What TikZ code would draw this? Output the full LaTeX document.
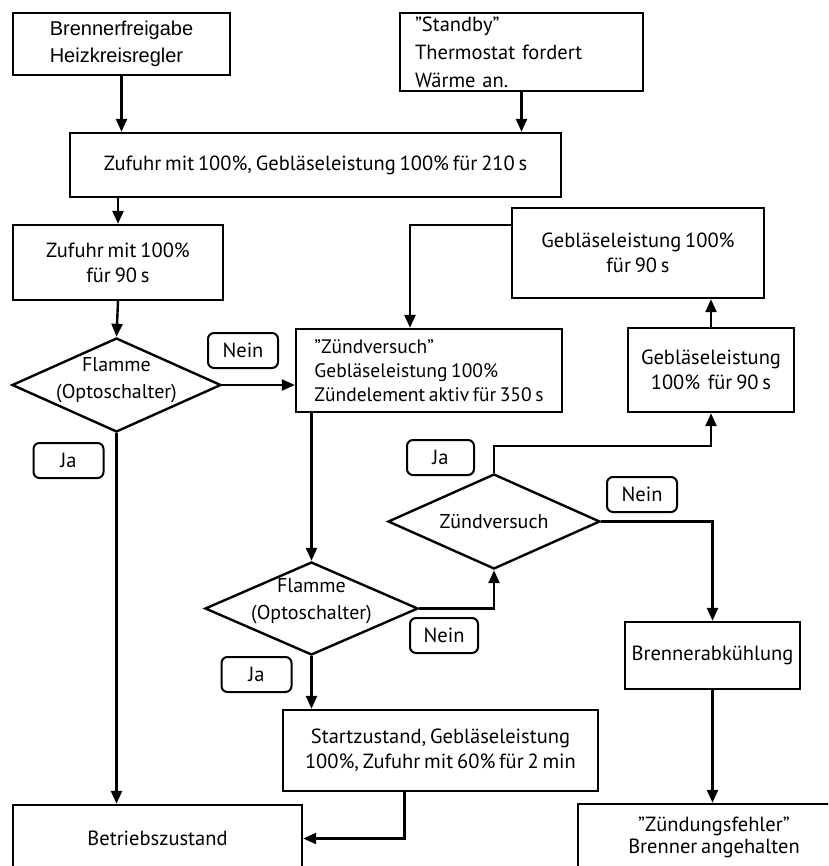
\documentclass[tikz,border=0pt]{standalone}
\usepackage{fontspec}
\setmainfont{PT Sans}[WordSpace=0.7]
\newfontfamily\arialfont{Liberation Sans}
\usetikzlibrary{shapes.geometric, arrows.meta, calc}
\tikzset{
    kasten/.style={draw, rectangle, line width=2.4pt, inner sep=0pt, align=center, font=\fontsize{20.5}{25}\selectfont},
    raute/.style={draw, diamond, line width=2.4pt, inner sep=0pt},
    rautentext/.style={align=center, font=\fontsize{20}{27}\selectfont},
    antwort/.style={draw, rounded corners=6pt, line width=2pt, minimum width=70pt, minimum height=35pt, inner sep=0pt, font=\fontsize{20.5}{25}\selectfont},
    pfeil/.style={-{Triangle[length=13pt,width=11pt]}, line width=2.4pt}
}

\begin{document}
\begin{tikzpicture}[x=1pt, y=-1pt]
                \clip (0,0) rectangle (828,866);

                \node[kasten, font=\arialfont\fontsize{20}{27}\selectfont, align=left, minimum width=217pt, minimum height=62pt] (brenner) at (121.5, 44) {Brennerfreigabe\\Heizkreisregler};
                \node[kasten, font=\fontsize{20.5}{28}\selectfont, align=left, text width=213pt, minimum width=243pt, minimum height=78pt] (standby) at (521.5, 52) {''Standby''\\Thermostat fordert\\Wärme an.};
                \node[kasten, minimum width=491pt, minimum height=64pt] (zufuhrA) at (315.5, 165) {Zufuhr mit 100\%, Gebläseleistung 100\% für 210 s};
                \node[kasten, minimum width=210pt, minimum height=75pt] (zufuhrB) at (118, 262.5) {Zufuhr mit 100\%\\für 90 s};
                \node[raute, minimum width=209pt, minimum height=94pt, label={[rautentext, yshift=5pt]center:Flamme\\(Optoschalter)}] (flammeA) at (116.5, 385) {};
                \node[kasten, font=\fontsize{19.5}{24}\selectfont, align=left, minimum width=266pt, minimum height=83pt] (zuend) at (429, 370.5) {''Zündversuch''\\Gebläseleistung 100\%\\Zündelement aktiv für 350 s};
                \node[raute, minimum width=213pt, minimum height=93pt, label={[rautentext, yshift=7pt]center:Flamme\\(Optoschalter)}] (flammeB) at (311.5, 608.5) {};
                \node[kasten, minimum width=315pt, minimum height=81pt] (start) at (440.5, 750.5) {Startzustand, Gebläseleistung\\100\%, Zufuhr mit 60\% für 2 min};
                \node[kasten, minimum width=289pt, minimum height=67pt] (betrieb) at (157.5, 838.5) {Betriebszustand};
                \node[raute, minimum width=212pt, minimum height=95pt, label={[rautentext]center:Zündversuch}] (versuch) at (494, 521.5) {};
                \node[kasten, minimum width=166pt, minimum height=84pt] (geblaeseB) at (711, 370) {Gebläseleistung\\100\%~~für 90 s};
                \node[kasten, minimum width=252pt, minimum height=90pt] (geblaeseA) at (638, 253) {Gebläseleistung 100\%\\für 90 s};
                \node[kasten, minimum width=175pt, minimum height=67pt] (abkuehl) at (712.5, 655.5) {Brennerabkühlung};
                \node[kasten, font=\fontsize{20.5}{22}\selectfont, minimum width=272pt, minimum height=66pt] (fehler) at (714, 837) {''Zündungsfehler''\\Brenner angehalten};

                \node[antwort] (neinA) at (243, 350.5) {Nein};
                \node[antwort] (jaA) at (68.5, 460.5) {Ja};
                \node[antwort, minimum width=67pt] (jaC) at (440.5, 457.5) {Ja};
                \node[antwort] (neinC) at (642, 494.5) {Nein};
                \node[antwort] (jaB) at (256.5, 674.5) {Ja};
                \node[antwort, minimum width=68pt] (neinB) at (444, 635.5) {Nein};

                \draw[pfeil] (brenner.south) -- (brenner.south |- zufuhrA.north);
                \draw[pfeil] (standby.south) -- (standby.south |- zufuhrA.north);
                \draw[pfeil] (zufuhrB.north |- zufuhrA.south) -- (zufuhrB.north);
                \draw[pfeil] (zufuhrB.south) -- (flammeA.north);
                \draw[pfeil] (flammeA.east) -- (flammeA.east -| zuend.west);
                \draw[pfeil] (flammeA.south) -- (flammeA.south |- betrieb.north);
                \draw[pfeil] (flammeB.north |- zuend.south) -- (flammeB.north);
                \draw[pfeil] (flammeB.south) -- (flammeB.south |- start.north);
                \draw[pfeil] ($(start.south)+(-36,0)$) |- (betrieb.east);
                \draw[pfeil] (flammeB.east) -| (versuch.south);
                \draw[pfeil] (versuch.north) -- ++(0,-27) -| (geblaeseB.south);
                \draw[pfeil] (geblaeseB.north) -- (geblaeseB.north |- geblaeseA.south);
                \draw[pfeil] ($(geblaeseA.west)+(0,-28)$) -| ($(zuend.north)+(-19,0)$);
                \draw[pfeil] (versuch.east) -| (abkuehl.north);
                \draw[pfeil] (abkuehl.south) -- (abkuehl.south |- fehler.north);
            \end{tikzpicture}
\end{document}
